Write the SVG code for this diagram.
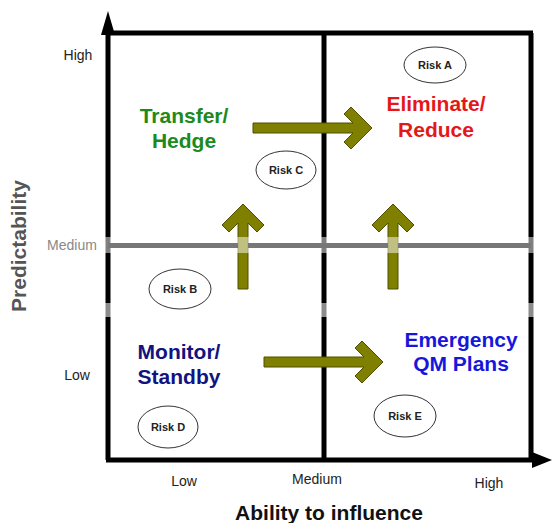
<svg xmlns="http://www.w3.org/2000/svg" width="552" height="523" viewBox="0 0 552 523">
  <style>
    text { font-family: "Liberation Sans", Arial, sans-serif; }
    .tick { font-size: 14px; fill: #222; text-anchor: middle; }
    .axis-title { font-size: 21px; font-weight: bold; text-anchor: middle; }
    .quad { font-size: 21px; font-weight: bold; text-anchor: middle; }
    .risk-shape { fill: #fff; stroke: #333; stroke-width: 1; }
    .risk-label { font-size: 11px; font-weight: bold; fill: #222; text-anchor: middle; }
    .grid { stroke: #000; stroke-width: 5; fill: none; }
    .move { fill: #808000; stroke: #4f4f00; stroke-width: 1; }
  </style>

  <rect width="552" height="523" fill="#fff"/>

  <!-- Quadrant frame and axes -->
  <g id="axes">
    <path class="grid" d="M108 460 V34 M106 33 H533 M531 33 V462 M106 460 H536 M324 33 V460"/>
    <polygon points="108,11 101,35 115,35" fill="#000"/>
    <polygon points="552,460 532,452 532,468" fill="#000"/>
  </g>

  <!-- Movement arrows between quadrants -->
  <g id="connectors">
    <polygon class="move" points="253,123 353,123 344,114 351,107 372,128 351,149 344,142 353,133 253,133"/>
    <polygon class="move" points="264,357 364,357 355,348 362,341 383,362 362,383 355,376 364,367 264,367"/>
    <polygon class="move" points="238,289 238,223 229,232 222,225 243,204 264,225 257,232 248,223 248,289"/>
    <polygon class="move" points="388,289 388,223 379,232 372,225 393,204 414,225 407,232 398,223 398,289"/>
  </g>

  <!-- Light bands across the chart -->
  <rect x="0" y="237" width="552" height="16" fill="#fff" opacity="0.5"/>
  <rect x="0" y="303" width="552" height="14" fill="#fff" opacity="0.55"/>

  <!-- Medium predictability divider -->
  <g id="medium-line">
    <path d="M108 245.5 H238 M248 245.5 H388 M398 245.5 H531" stroke="#777" stroke-width="5" fill="none"/>
  </g>

  <!-- Axis ticks -->
  <g id="y-ticks">
    <text class="tick" x="78" y="60">High</text>
    <text class="tick" x="72" y="250" style="fill:#888">Medium</text>
    <text class="tick" x="77" y="380">Low</text>
  </g>
  <g id="x-ticks">
    <text class="tick" x="184" y="486">Low</text>
    <text class="tick" x="317" y="484">Medium</text>
    <text class="tick" x="489" y="488">High</text>
  </g>

  <g id="x-title">
    <text class="axis-title" x="329" y="520" fill="#111">Ability to influence</text>
  </g>
  <g id="y-title">
    <text class="axis-title" transform="translate(26 246) rotate(-90)" fill="#555">Predictability</text>
  </g>

  <!-- Quadrant strategies -->
  <g id="transfer-hedge">
    <text class="quad" x="184" y="123" fill="#1c8a1c">Transfer/</text>
    <text class="quad" x="184" y="148" fill="#1c8a1c">Hedge</text>
  </g>
  <g id="eliminate-reduce">
    <text class="quad" x="436" y="111" fill="#e41818">Eliminate/</text>
    <text class="quad" x="436" y="137" fill="#e41818">Reduce</text>
  </g>
  <g id="monitor-standby">
    <text class="quad" x="179" y="359" fill="#13137f">Monitor/</text>
    <text class="quad" x="179" y="384" fill="#13137f">Standby</text>
  </g>
  <g id="emergency-plans">
    <text class="quad" x="461" y="347" fill="#1717dc">Emergency</text>
    <text class="quad" x="461" y="371" fill="#1717dc">QM Plans</text>
  </g>

  <!-- Risks -->
  <g id="risk-a">
    <ellipse class="risk-shape" cx="435" cy="65" rx="31" ry="18"/>
    <text class="risk-label" x="435" y="69">Risk A</text>
  </g>
  <g id="risk-b">
    <ellipse class="risk-shape" cx="180" cy="289" rx="31" ry="20"/>
    <text class="risk-label" x="180" y="293">Risk B</text>
  </g>
  <g id="risk-c">
    <ellipse class="risk-shape" cx="286" cy="170" rx="30" ry="19"/>
    <text class="risk-label" x="286" y="174">Risk C</text>
  </g>
  <g id="risk-d">
    <ellipse class="risk-shape" cx="168" cy="427" rx="30" ry="21"/>
    <text class="risk-label" x="168" y="431">Risk D</text>
  </g>
  <g id="risk-e">
    <ellipse class="risk-shape" cx="405" cy="416" rx="31" ry="21"/>
    <text class="risk-label" x="405" y="420">Risk E</text>
  </g>
</svg>
